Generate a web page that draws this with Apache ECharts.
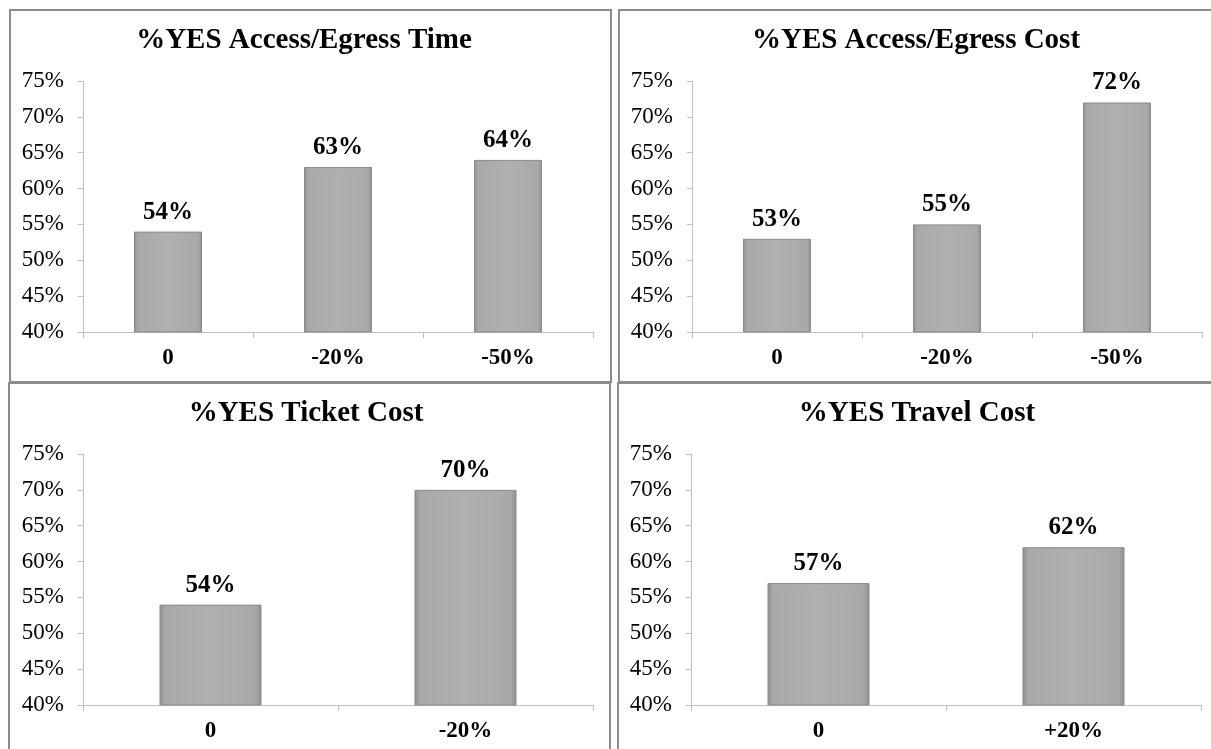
<!DOCTYPE html>
<html><head><meta charset="utf-8">
<script src="https://cdn.jsdelivr.net/npm/echarts@6/dist/echarts.min.js"></script>
<style>html,body{margin:0;padding:0;background:#fff}#c{width:1211px;height:749px}</style>
</head><body><div id="c"></div>
<script>
const titles = ['%YES Access/Egress Time', '%YES Access/Egress Cost', '%YES Ticket Cost', '%YES Travel Cost'];
const catsTL = ['0', '-20%', '-50%'];
const valsTL = [54, 63, 64];
const catsTR = ['0', '-20%', '-50%'];
const valsTR = [53, 55, 72];
const catsBL = ['0', '-20%'];
const valsBL = [54, 70];
const catsBR = ['0', '+20%'];
const valsBR = [57, 62];
const yMin = 40, yMax = 75, yStep = 5;

const cats = [catsTL, catsTR, catsBL, catsBR];
const vals = [valsTL, valsTR, valsBL, valsBR];
const grids = [
  {left: 83, top: 81, width: 510, height: 251},
  {left: 692, top: 81, width: 510, height: 251},
  {left: 83, top: 454, width: 510, height: 251},
  {left: 691, top: 454, width: 510, height: 251}
];
const titlePos = [[304, 41], [916, 41], [306, 414], [917, 414]];
const panels = [[10, 10, 601, 372], [619, 10, 620, 372], [9, 383, 601, 380], [618, 383, 620, 380]];
const serif = '"Liberation Serif", "Times New Roman", serif';
const axisGray = '#bfbfbf';

const barFill = {
  type: 'linear', x: 0, y: 0, x2: 1, y2: 0,
  colorStops: [
    {offset: 0, color: '#8e8e8e'}, {offset: 0.06, color: '#a9a9a9'},
    {offset: 0.5, color: '#b0b0b0'}, {offset: 0.94, color: '#a9a9a9'},
    {offset: 1, color: '#8e8e8e'}
  ]
};

const option = {
  animation: false,
  grid: grids.map(g => Object.assign({containLabel: false}, g)),
  xAxis: cats.map((c, i) => ({
    type: 'category', gridIndex: i, data: c,
    axisLine: {lineStyle: {color: axisGray, width: 1}},
    axisTick: {show: true, length: 6, lineStyle: {color: axisGray}},
    axisLabel: {margin: 15, color: '#000', fontFamily: serif, fontWeight: 'bold', fontSize: 23}
  })),
  yAxis: cats.map((c, i) => ({
    type: 'value', gridIndex: i, min: yMin, max: yMax, interval: yStep,
    splitLine: {show: false},
    axisLine: {show: true, lineStyle: {color: axisGray, width: 1}},
    axisTick: {show: true, length: 5, lineStyle: {color: axisGray}},
    axisLabel: {margin: 19, color: '#000', fontFamily: serif, fontSize: 23, formatter: '{value}%'}
  })),
  series: vals.map((v, i) => ({
    type: 'bar', xAxisIndex: i, yAxisIndex: i, data: v, barWidth: '40%',
    itemStyle: {color: barFill, borderColor: '#8a8a8a', borderWidth: 1},
    label: {show: true, position: 'top', distance: 7, formatter: '{c}%', color: '#000',
            fontFamily: serif, fontWeight: 'bold', fontSize: 25}
  })),
  graphic: [
    ...panels.map(p => ({
      type: 'rect', shape: {x: p[0], y: p[1], width: p[2], height: p[3]},
      style: {fill: 'none', stroke: '#8c8c8c', lineWidth: 2}, z: 100
    })),
    ...titles.map((t, i) => ({
      type: 'text', x: titlePos[i][0], y: titlePos[i][1],
      style: {text: t, fill: '#000', font: 'bold 29px ' + serif, textAlign: 'center', textVerticalAlign: 'middle'},
      z: 100
    }))
  ]
};
echarts.init(document.getElementById('c')).setOption(option);
</script></body></html>
